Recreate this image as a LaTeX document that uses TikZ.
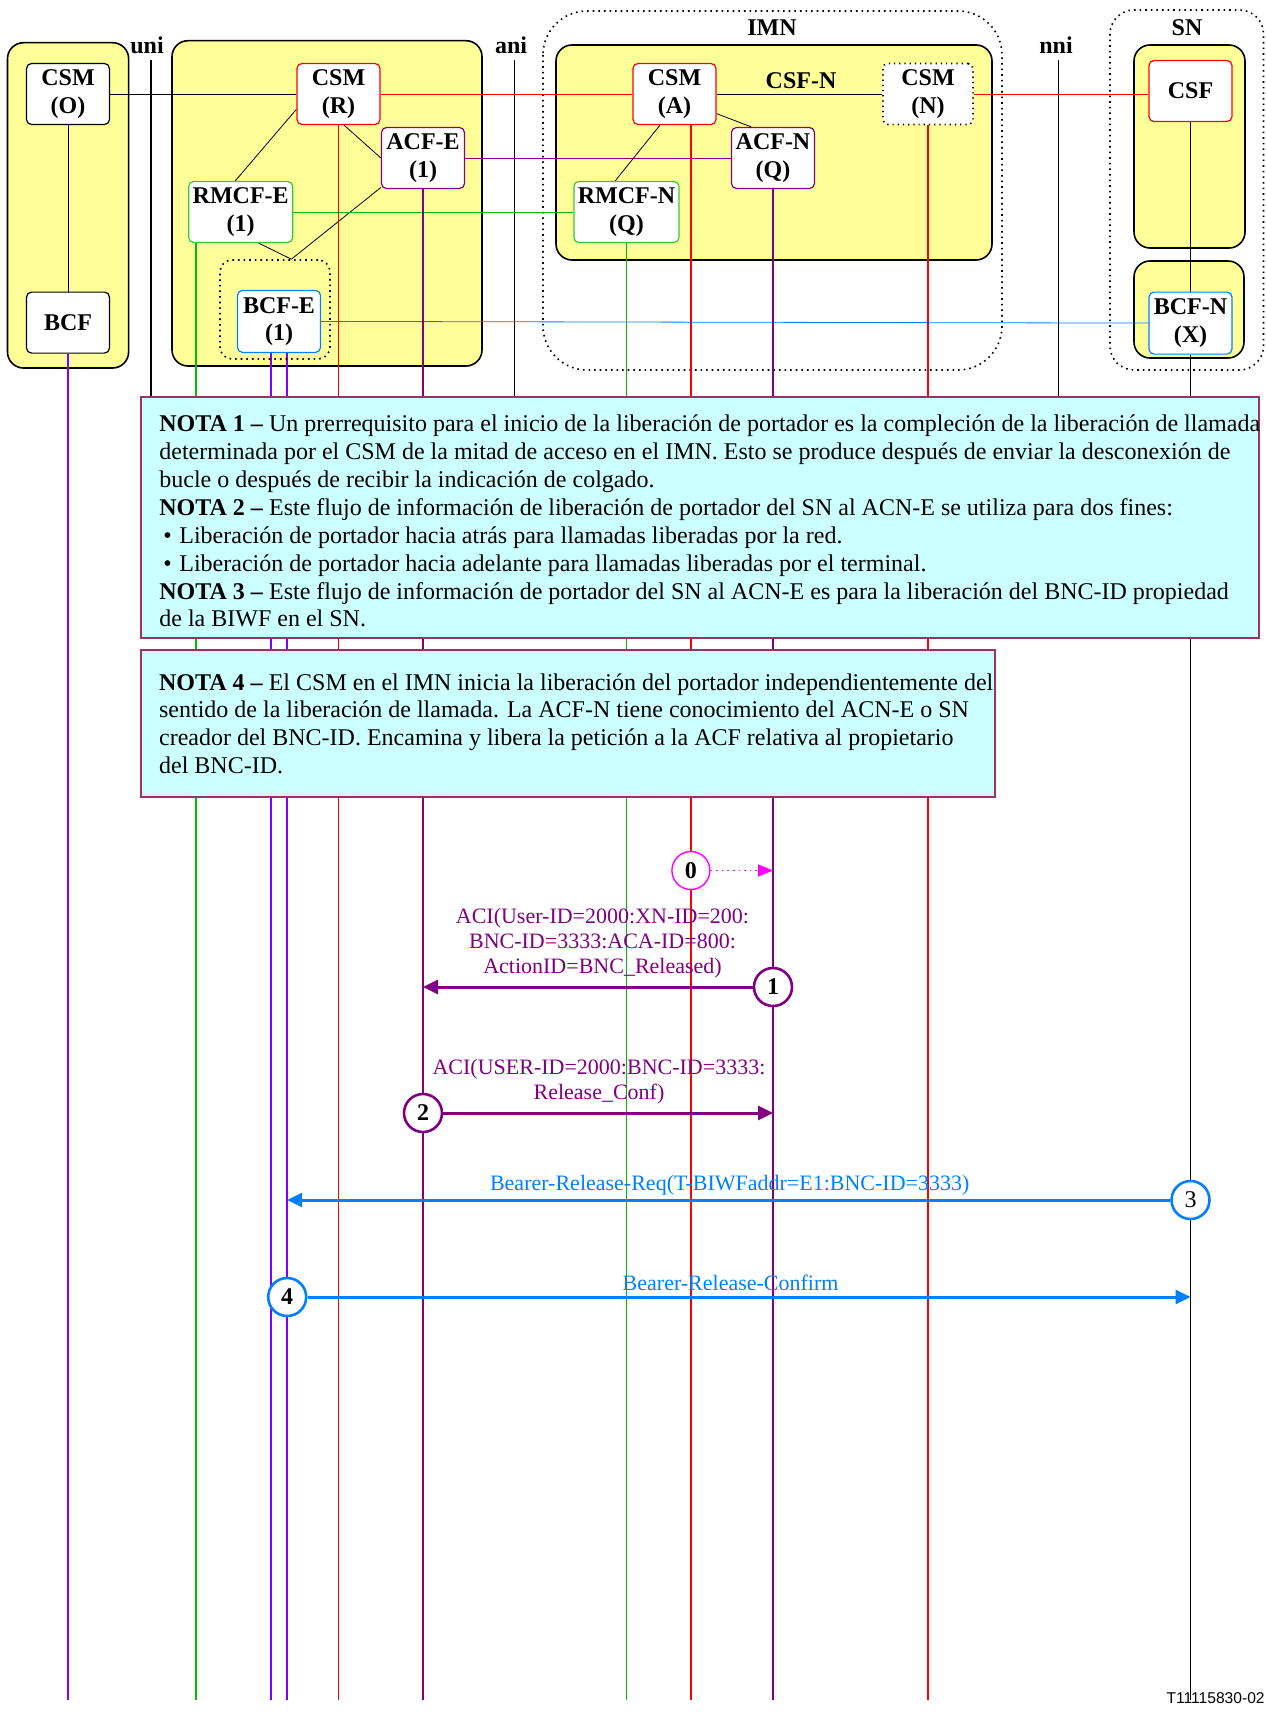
\documentclass[tikz,border=0pt]{standalone}
\usepackage{fontspec}
\setmainfont{Liberation Serif}
\setsansfont{Liberation Sans}
\usetikzlibrary{arrows.meta, positioning, calc}
\definecolor{cred}{HTML}{FF0000}
\definecolor{cgreen}{HTML}{00BF00}
\definecolor{cgreenbox}{HTML}{33CC33}
\definecolor{cpurple}{HTML}{800080}
\definecolor{cviolet}{HTML}{8000FF}
\definecolor{cblue}{HTML}{0080FF}
\definecolor{cmagenta}{HTML}{FF00FF}
\definecolor{cyellow}{HTML}{FFFF99}
\definecolor{cnote}{HTML}{CCFFFF}
\definecolor{cnoteline}{HTML}{993366}
\pgfdeclarelayer{bg}
\pgfdeclarelayer{wires}
\pgfsetlayers{bg,wires,main}
\tikzset{
  every picture/.style={line width=0.75pt},
  entity/.style={draw=#1, fill=white, rounded corners=2.5pt, align=center, inner sep=0pt, line width=0.6pt,
    minimum width=41.5pt, minimum height=30.5pt, font=\fontsize{12}{13.7}\selectfont\bfseries},
  entity/.default=black,
  zone/.style={draw, fill=cyellow, rounded corners=8pt, line width=0.8pt},
  domain/.style={draw, dotted, rounded corners=#1, line width=0.8pt},
  iface/.style={inner sep=0pt, font=\fontsize{12}{14}\selectfont\bfseries},
  life/.style={line width=0.75pt},
}

\begin{document}
\begin{tikzpicture}[x=0.5pt, y=-0.5pt,
  num/.style={circle, draw=#1, fill=white, line width=1.3pt, minimum size=19pt, inner sep=0pt, font=\fontsize{12}{12}\selectfont\bfseries},
  msg/.style={-{Triangle[length=7.5pt, width=7pt]}, line width=1.5pt},
  lbl/.style={align=center, inner sep=0pt, font=\fontsize{11}{12.5}\selectfont},
  nota/.style={draw=cnoteline, fill=cnote, line width=1pt, inner sep=0pt, anchor=north west},
  notetext/.style={align=left, inner sep=0pt, anchor=north west, font=\fontsize{12}{13.95}\selectfont}]
  \useasboundingbox (0,0) rectangle (1265,1712);

  % zones and domains
  \begin{pgfonlayer}{bg}
    \draw[zone] (7.5,42.7) rectangle (128.6,368);
    \draw[zone] (172,40.7) rectangle (482,366);
    \draw[domain=22pt] (543,11) rectangle (1002,370);
    \draw[zone] (556,45) rectangle (992,260);
    \draw[domain=12pt] (1110,10) rectangle (1263.5,370);
    \draw[zone] (1134,45) rectangle (1245,248);
    \draw[zone] (1134,261) rectangle (1244,358);
  \end{pgfonlayer}

  % functional entities
  \node[entity] (csmO) at (68,94) {CSM\\(O)};
  \node[entity, below=83.2pt of csmO] (bcf) {BCF};
  \node[entity=cred] (csmR) at (338.5,94) {CSM\\(R)};
  \node[entity=cpurple] (acfE) at (423,158) {ACF-E\\(1)};
  \node[entity=cgreenbox, minimum width=52pt] (rmcfE) at (240.7,212) {RMCF-E\\(1)};
  \node[draw, dotted, rounded corners=6pt, line width=0.8pt, minimum width=55pt, minimum height=49.5pt] (bcfEgrp) at (275,309.5) {};
  \node[entity=cblue, minimum height=31pt] (bcfE) at (279,321.4) {BCF-E\\(1)};
  \node[entity=cred] (csmA) at (674.5,94) {CSM\\(A)};
  \node[entity, dotted, line width=0.9pt, minimum width=45pt] (csmN) at (928,94) {CSM\\(N)};
  \node[entity=cpurple] (acfN) at (773,158) {ACF-N\\(Q)};
  \node[entity=cgreenbox, minimum width=52.5pt] (rmcfN) at (626.5,212) {RMCF-N\\(Q)};
  \node[entity=cred] (csf) at (1190.5,91) {CSF};
  \node[entity=cblue, minimum height=31pt, below=84.7pt of csf] (bcfN) {BCF-N\\(X)};

  % labels
  \node[iface] (uni) at (147,45) {uni};
  \node[iface] (ani) at (511,45) {ani};
  \node[iface] (nni) at (1056,45) {nni};
  \node[iface] (imn) at (772,28) {IMN};
  \node[iface] (sn) at (1187,28) {SN};
  \node[iface] (csfN) at (801,81) {CSF-N};

  % notes
  \node[nota, minimum width=558.9pt, minimum height=120.5pt] (nota1) at (139.7,396) {};
  \node[notetext] (nota1txt) at (159,414.6) {\textbf{NOTA 1 –} Un prerrequisito para el inicio de la liberación de portador es la compleción de la liberación de llamada\\
    determinada por el CSM de la mitad de acceso en el IMN. Esto se produce después de enviar la desconexión de\\
    bucle o después de recibir la indicación de colgado.\\
    \textbf{NOTA 2 –} Este flujo de información de liberación de portador del SN al ACN-E se utiliza para dos fines:\\
    \makebox[10pt][l]{\,\textbullet}Liberación de portador hacia atrás para llamadas liberadas por la red.\\
    \makebox[10pt][l]{\,\textbullet}Liberación de portador hacia adelante para llamadas liberadas por el terminal.\\
    \textbf{NOTA 3 –} Este flujo de información de portador del SN al ACN-E es para la liberación del BNC-ID propiedad\\
    de la BIWF en el SN.};
  \node[nota, minimum width=427pt, minimum height=73.2pt] (nota4) at (140,649.3) {};
  \node[notetext] (nota4txt) at (158.7,673) {\textbf{NOTA 4 –} El CSM en el IMN inicia la liberación del portador independientemente del\\
    sentido de la liberación de llamada. La ACF-N tiene conocimiento del ACN-E o SN\\
    creador del BNC-ID. Encamina y libera la petición a la ACF relativa al propietario\\
    del BNC-ID.};

  % life line tops
  \coordinate (bot) at (0,1700);
  \coordinate (uniT) at (151,60);
  \coordinate (aniT) at (514.7,60);
  \coordinate (nniT) at (1058.7,60);
  \coordinate (lRE) at ([xshift=4pt]rmcfE.south west);
  \coordinate (lBE1) at ([xshift=-4.1pt]bcfE.south);
  \coordinate (lBE2) at ([xshift=4.1pt]bcfE.south);
  \coordinate (lA) at ([xshift=8.2pt]csmA.south);

  \begin{pgfonlayer}{wires}
    \draw[life] (uniT) -- (uniT |- nota1.north);
    \draw[life] (aniT) -- (aniT |- nota1.north);
    \draw[life] (nniT) -- (nniT |- nota1.north);
    % relations
    \draw (csmO.east) -- (csmR.west);
    \draw (csmO) -- (bcf);
    \draw (rmcfE.100) -- (csmR.200);
    \draw (csmR.-80) -- (acfE.west);
    \draw (acfE.215) -- (bcfEgrp.72);
    \draw (rmcfE.-60) -- (bcfEgrp.72);
    \draw[cred] (csmR.east) -- (csmA.west);
    \draw[cpurple] (acfE.east) -- (acfN.west);
    \draw[cgreen] (rmcfE.east) -- (rmcfN.west);
    \draw[cblue] (bcfE.east) -- (bcfN.west);
    \draw (csmA.east) -- (csmN.west);
    \draw (csmA.-115) -- (rmcfN.110);
    \draw (csmA.-25) -- (acfN.125);
    \draw[cred] (csmN.east) -- (csmN.east -| csf.west);
    \draw (csf) -- (bcfN);
    % life lines
    \draw[life, cviolet] (bcf.south) -- (bcf.south |- bot);
    \draw[life, cgreen] (lRE) -- (lRE |- bot);
    \draw[life, cviolet] (lBE1) -- (lBE1 |- bot);
    \draw[life, cviolet] (lBE2) -- (lBE2 |- bot);
    \draw[life, cred] (csmR.south) -- (csmR.south |- bot);
    \draw[life, cpurple] (acfE.south) -- (acfE.south |- bot);
    \draw[life, cgreen] (rmcfN.south) -- (rmcfN.south |- bot);
    \draw[life, cred] (lA) -- (lA |- bot);
    \draw[life, cpurple] (acfN.south) -- (acfN.south |- bot);
    \draw[life, cred] (csmN.south) -- (csmN.south |- bot);
    \draw[life] (bcfN.south) -- (bcfN.south |- bot);
  \end{pgfonlayer}

  % information flows
  \node[num=cmagenta, line width=0.7pt] (m0) at (lA |- 0,870.5) {0};
  \draw[dotted, cmagenta, line width=0.8pt, -{Triangle[length=7.5pt, width=6pt]}] (m0) -- (m0 -| acfN.south);

  \node[num=cpurple] (m1) at (acfN.south |- 0,987) {1};
  \draw[msg, cpurple] (m1) -- (m1 -| acfE.south);
  \node[lbl, text=cpurple] (l1) at (602.5,943.3) {ACI(User-ID=2000:XN-ID=200:\\BNC-ID=3333:ACA-ID=800:\\ActionID=BNC\_Released)};

  \node[num=cpurple] (m2) at (acfE.south |- 0,1113) {2};
  \draw[msg, cpurple] (m2) -- (m2 -| acfN.south);
  \node[lbl, text=cpurple] (l2) at (599,1081.7) {ACI(USER-ID=2000:BNC-ID=3333:\\Release\_Conf)};

  \node[num=cblue, font=\fontsize{12}{12}\selectfont] (m3) at (bcfN.south |- 0,1200) {3};
  \draw[msg, cblue] (m3) -- (m3 -| lBE2);
  \node[lbl, text=cblue] (l3) at (729.7,1185) {Bearer-Release-Req(T-BIWFaddr=E1:BNC-ID=3333)};

  \node[num=cblue] (m4) at (lBE2 |- 0,1297) {4};
  \draw[msg, cblue] (m4) -- (m4 -| bcfN.south);
  \node[lbl, text=cblue] (l4) at (730.6,1283) {Bearer-Release-Confirm};

  \node[font=\sffamily\fontsize{7.8}{8}\selectfont, anchor=base east, inner sep=0pt] (figid) at (1265,1703) {T11115830-02};
\end{tikzpicture}
\end{document}
